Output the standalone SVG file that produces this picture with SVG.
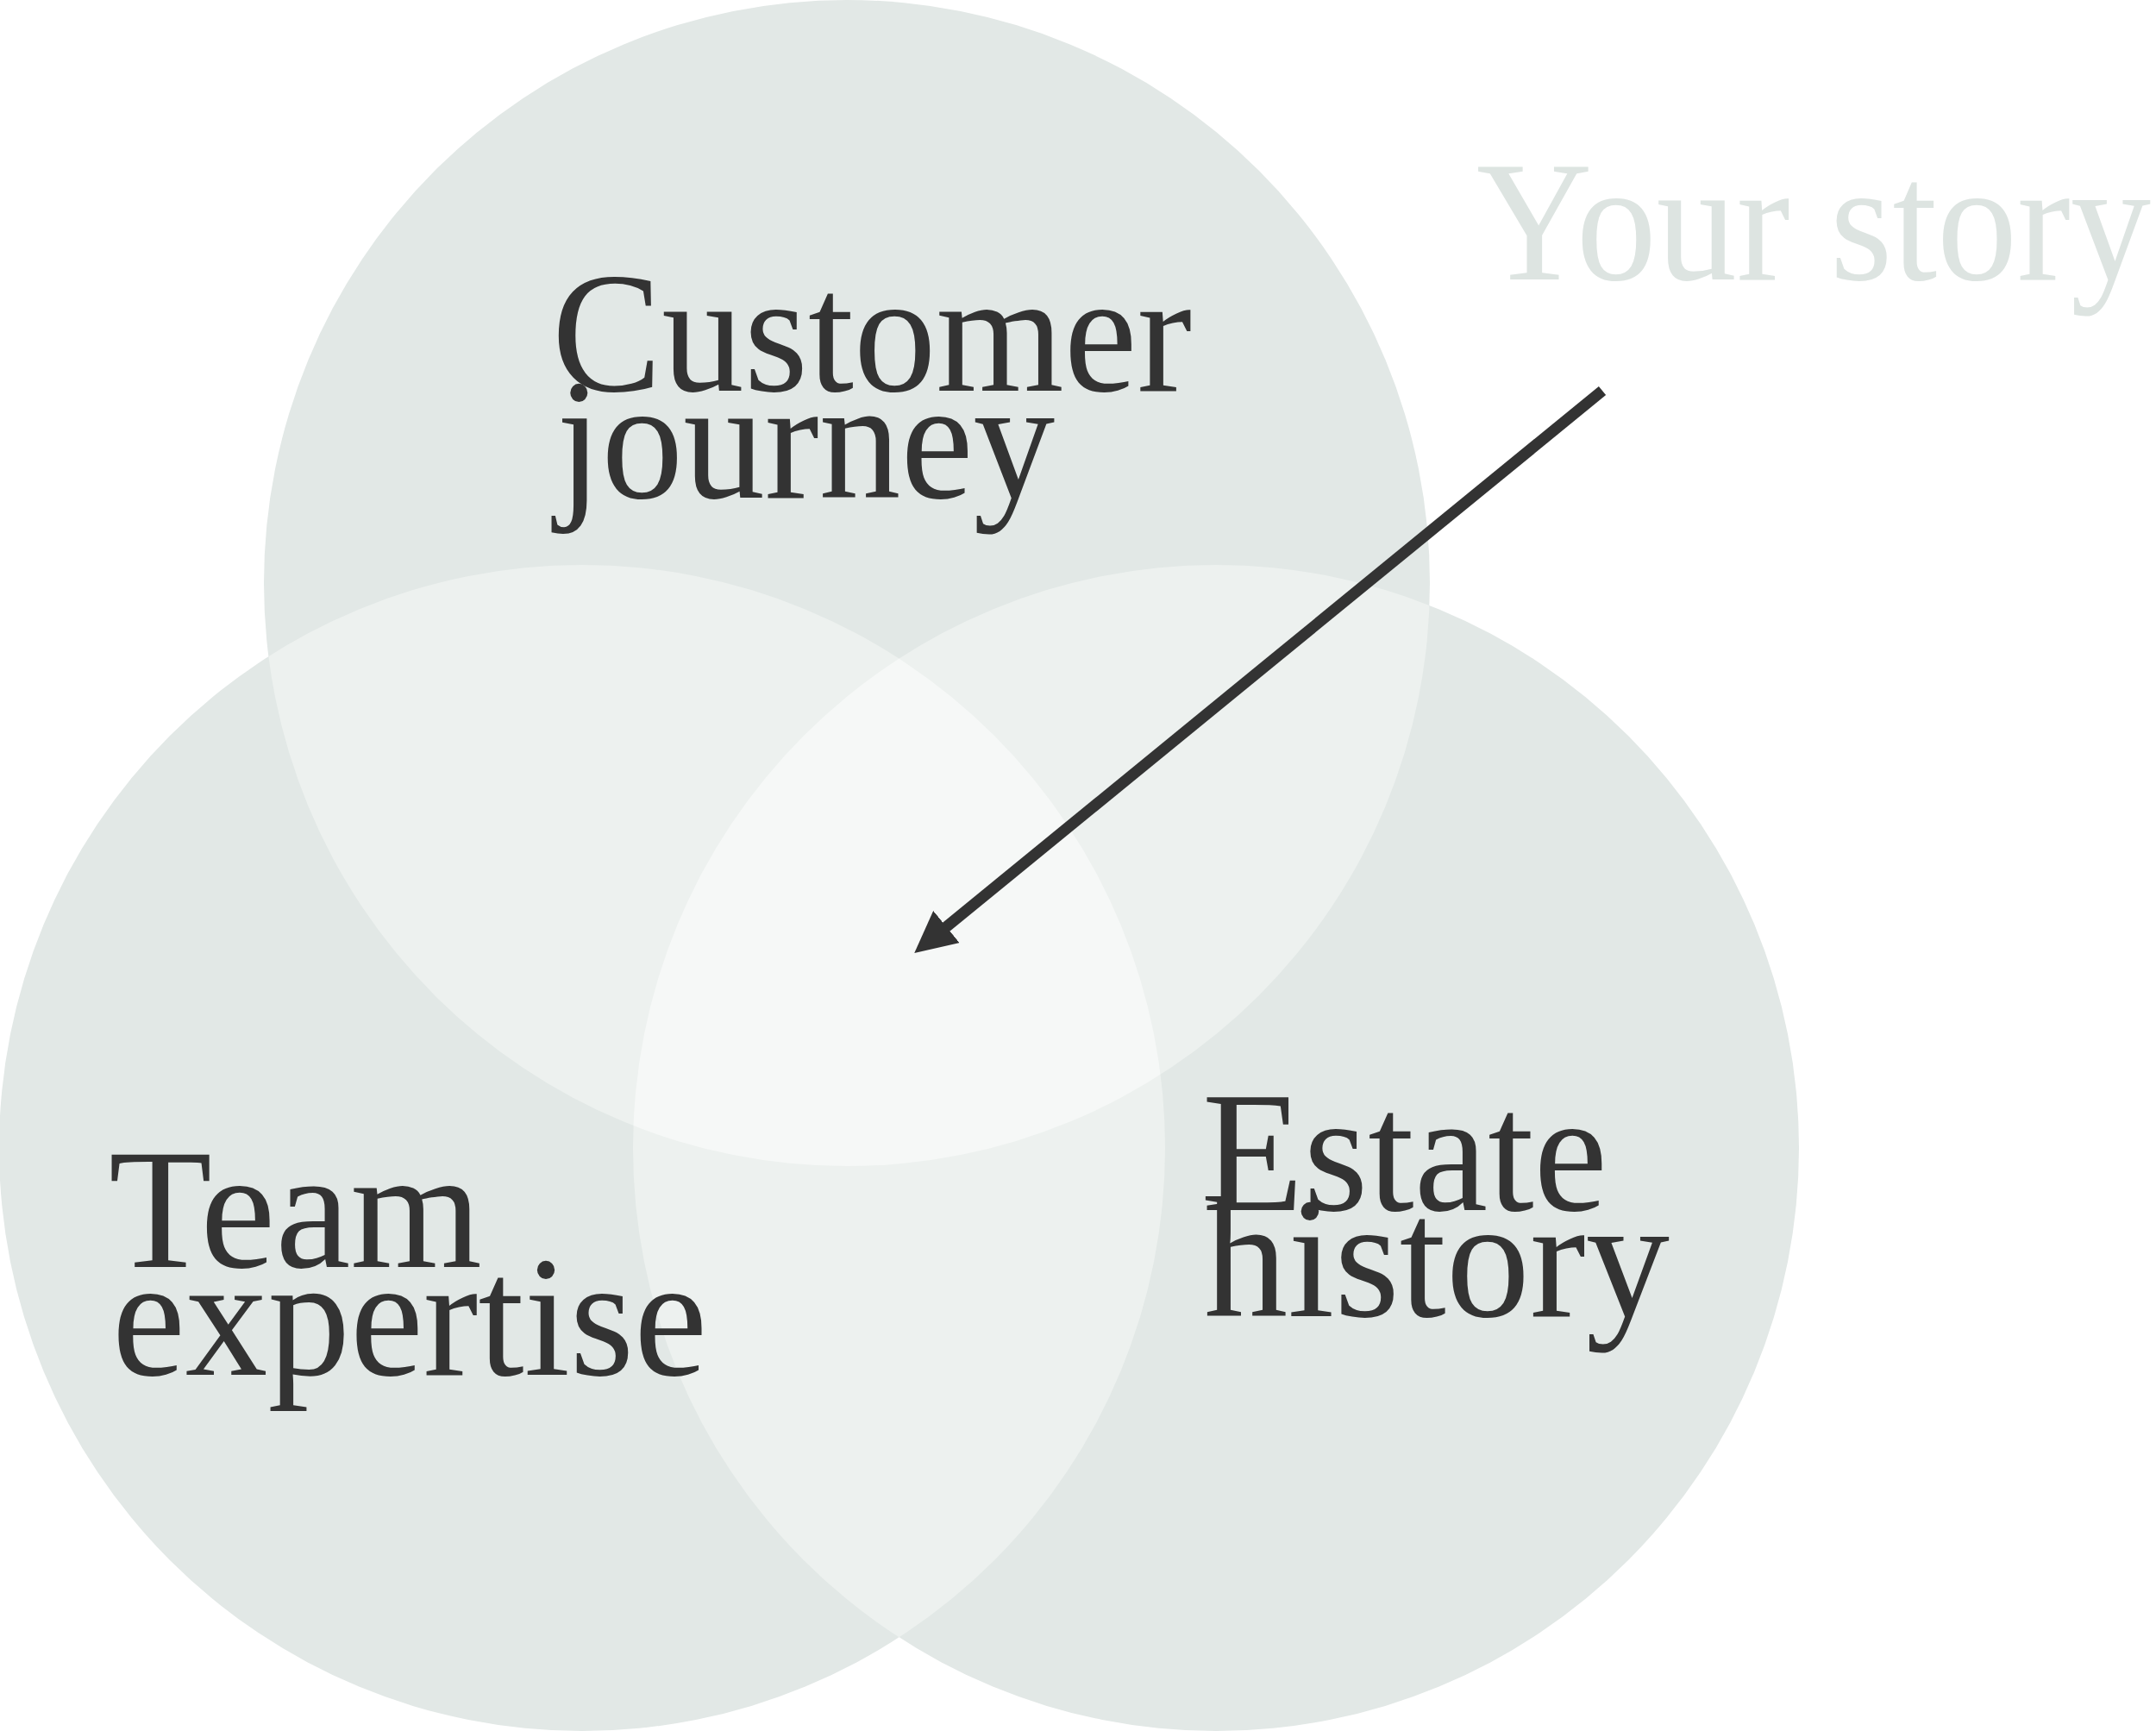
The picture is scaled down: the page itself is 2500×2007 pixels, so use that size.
<svg xmlns="http://www.w3.org/2000/svg" width="2500" height="2007" viewBox="0 0 2500 2007">
  <style>
    .circle { fill: #e2e8e6; }
    .pair { fill: #edf1ef; }
    .triple { fill: #f6f8f7; }
    .label { font-family: "Liberation Serif", "Times New Roman", serif; font-size: 200px; fill: #333333; }
    .faint { font-family: "Liberation Serif", "Times New Roman", serif; font-size: 200px; fill: #dde4e1; }
    .conn { stroke: #333333; stroke-width: 13; fill: none; stroke-linecap: butt; }
  </style>
  <defs>
    <clipPath id="clipTop"><circle cx="982" cy="676" r="676"/></clipPath>
    <clipPath id="clipLeft"><circle cx="675" cy="1331" r="676"/></clipPath>
    <clipPath id="clipRight"><circle cx="1410" cy="1331" r="676"/></clipPath>
    <marker id="arrowhead" markerUnits="userSpaceOnUse" viewBox="0 0 48 48" markerWidth="48" markerHeight="48" refX="7" refY="24" orient="auto">
      <path d="M0,0 L48,24 L0,48 Z" fill="#333333"/>
    </marker>
  </defs>
  <rect width="2500" height="2007" fill="#ffffff"/>

  <g id="circle-top"><circle class="circle" cx="982" cy="676" r="676"/></g>
  <g id="circle-left"><circle class="circle" cx="675" cy="1331" r="676"/></g>
  <g id="circle-right"><circle class="circle" cx="1410" cy="1331" r="676"/></g>

  <g id="overlaps">
    <g clip-path="url(#clipTop)"><circle class="pair" cx="675" cy="1331" r="676"/></g>
    <g clip-path="url(#clipTop)"><circle class="pair" cx="1410" cy="1331" r="676"/></g>
    <g clip-path="url(#clipLeft)"><circle class="pair" cx="1410" cy="1331" r="676"/></g>
    <g clip-path="url(#clipTop)"><g clip-path="url(#clipLeft)"><circle class="triple" cx="1410" cy="1331" r="676"/></g></g>
  </g>

  <g id="label-your-story">
    <text class="faint" x="1712" y="324" textLength="782" lengthAdjust="spacingAndGlyphs">Your story</text>
  </g>
  <g id="label-customer-journey">
    <text class="label" x="640" y="453" textLength="742" lengthAdjust="spacingAndGlyphs">Customer</text>
    <text class="label" x="645" y="577" textLength="578" lengthAdjust="spacingAndGlyphs">journey</text>
  </g>
  <g id="label-team-expertise">
    <text class="label" x="126" y="1469" textLength="433" lengthAdjust="spacingAndGlyphs">Team</text>
    <text class="label" x="130" y="1594" textLength="690" lengthAdjust="spacingAndGlyphs">expertise</text>
  </g>
  <g id="label-estate-history">
    <text class="label" x="1394" y="1403" textLength="470" lengthAdjust="spacingAndGlyphs">Estate</text>
    <text class="label" x="1396" y="1526" textLength="540" lengthAdjust="spacingAndGlyphs">history</text>
  </g>

  <g id="connectors">
    <path class="conn" d="M1858,453 L1092,1079" marker-end="url(#arrowhead)"/>
  </g>
</svg>
